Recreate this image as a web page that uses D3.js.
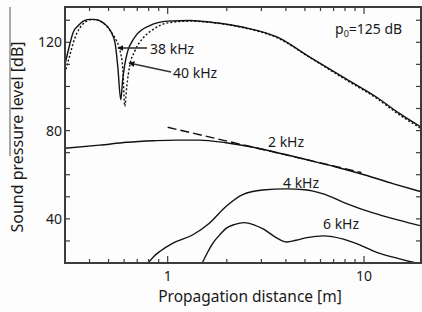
<!DOCTYPE html>
<html><head><meta charset="utf-8">
<script src="https://cdn.jsdelivr.net/npm/d3@7"></script>
<style>body{margin:0;background:#fff}svg{display:block}text{font-family:"Noto Sans",sans-serif;fill:#1a1a1a}</style>
</head><body><svg id="c" width="422" height="312"></svg>
<script>
// distance [m], sound pressure level [dB]
const khz38 = [[0.30,110],[0.315,118],[0.33,124.5],[0.35,127.5],[0.37,129.5],[0.40,130.4],[0.43,130.3],[0.47,128.8],[0.51,125.4],[0.54,119.5],[0.557,109],[0.577,94],[0.59,103],[0.605,110],[0.626,116],[0.66,120.5],[0.70,123.8],[0.81,127.6],[1.0,129.6],[1.3,129.9],[1.7,129],[2.43,126.8],[3.62,122.3],[5.32,113.2],[7.82,104.2],[11.6,95.1],[15,88],[19.5,81.6]];
const khz40 = [[0.30,106],[0.315,113],[0.337,122],[0.357,126.5],[0.385,129.5],[0.416,130.4],[0.45,129.8],[0.49,127.2],[0.526,123.5],[0.55,120.5],[0.571,116.5],[0.591,108],[0.605,91],[0.619,100],[0.641,109.5],[0.68,116],[0.747,121.8],[0.85,126],[1.0,128.8],[1.3,129.6],[1.7,128.9],[2.43,126.6],[3.62,122],[5.32,113],[7.82,103.8],[11.6,94.6],[15,87.4],[19.5,81]];
const khz2 = [[0.30,72],[0.45,73.4],[0.62,74.7],[0.85,75.4],[1.1,75.7],[1.45,75.7],[1.98,74.5],[2.6,72.8],[3.5,70.3],[5,67],[7.2,63.5],[10,60],[14,56],[19.5,52.3]];
const khz2Ref = [[1.0,81.5],[9.7,61.0]];
const khz4 = [[0.794,20],[0.85,23],[0.911,25.2],[1.064,29],[1.345,32.8],[1.63,38],[1.98,45.6],[2.41,51],[3.05,53.1],[4.0,53.6],[5.0,53.2],[6.2,51.3],[7.9,47.4],[11,42.8],[15,39.4],[19.5,36.8]];
const khz6 = [[1.50,20],[1.60,25],[1.70,29],[1.85,33],[1.99,35.8],[2.2,37.5],[2.44,38.3],[2.75,37.3],[3.08,35.3],[3.5,32],[4.05,29.5],[4.5,30.3],[5.12,31.5],[6.21,32.3],[7.85,30.8],[9.5,28.2],[11.6,24.8],[15,22],[19.5,19.5]];
const xMajor = [1, 10];
const xMinor = [0.3,0.4,0.5,0.6,0.7,0.8,0.9,2,3,4,5,6,7,8,9];
const yMajor = [40, 80, 120];
const yMinor = [30, 50, 60, 70, 90, 100, 110, 130];

const svg = d3.select("#c");
const L = 65, R = 421, T = 7, B = 263;
const x = d3.scaleLog().domain([0.3, 19.5]).range([L, R]);
const y = d3.scaleLinear().domain([20, 136]).range([B, T]);

svg.append("rect").attr("width",422).attr("height",312).attr("fill","#fdfdfd");

const defs = svg.append("defs");
defs.append("clipPath").attr("id","clip").append("rect").attr("x",L).attr("y",T).attr("width",R-L).attr("height",B-T);
defs.append("marker").attr("id","ah").attr("viewBox","0 0 10 10").attr("refX",9).attr("refY",5)
  .attr("markerWidth",6).attr("markerHeight",6).attr("orient","auto").attr("markerUnits","userSpaceOnUse")
  .append("path").attr("d","M0,0 L10,5 L0,10 z").attr("fill","#111");

const line = d3.line().x(d=>x(d[0])).y(d=>y(d[1])).curve(d3.curveMonotoneX);
const g = svg.append("g").attr("clip-path","url(#clip)");
const series = [
  {data:khz38, dash:null},
  {data:khz40, dash:"2,2"},
  {data:khz2, dash:null},
  {data:khz2Ref, dash:"9,4"},
  {data:khz4, dash:null},
  {data:khz6, dash:null}
];
series.forEach(s=>{
  g.append("path").attr("d", line(s.data)).attr("fill","none").attr("stroke","#111")
   .attr("stroke-width", 1.4).attr("stroke-dasharray", s.dash);
});

// axes (inward ticks on all four sides)
const ax = svg.append("g").attr("stroke","#3c3c3c");
function ticks(vals, len, orient){
  vals.forEach(v=>{
    if(orient==="b") ax.append("line").attr("x1",x(v)).attr("x2",x(v)).attr("y1",B).attr("y2",B-len);
    if(orient==="t") ax.append("line").attr("x1",x(v)).attr("x2",x(v)).attr("y1",T).attr("y2",T+len);
    if(orient==="l") ax.append("line").attr("y1",y(v)).attr("y2",y(v)).attr("x1",L).attr("x2",L+len);
    if(orient==="r") ax.append("line").attr("y1",y(v)).attr("y2",y(v)).attr("x1",R).attr("x2",R-len);
  });
}
ticks(xMajor,7,"b"); ticks(xMinor,4,"b");
ticks(xMajor,7,"t"); ticks(xMinor,4,"t");
ticks(yMajor,5,"l"); ticks(yMinor,5,"l");
ticks(yMajor,5,"r"); ticks(yMinor,5,"r");
ax.selectAll("line").attr("stroke-width",1.2);
ax.append("rect").attr("x",L).attr("y",T).attr("width",R-L).attr("height",B-T)
  .attr("fill","none").attr("stroke-width",2);

// tick labels
svg.selectAll(".yl").data(yMajor).enter().append("text")
  .attr("x",62).attr("y",d=>y(d)+5).attr("text-anchor","end").attr("font-size",14).text(d=>d);
svg.selectAll(".xl").data(xMajor).enter().append("text")
  .attr("x",d=>x(d)).attr("y",281).attr("text-anchor","middle").attr("font-size",14).text(d=>d);

// axis titles
svg.append("text").attr("x",250).attr("y",302).attr("text-anchor","middle").attr("font-size",15.5)
  .text("Propagation distance [m]");
svg.append("text").attr("transform","translate(23,137) rotate(-90)").attr("text-anchor","middle")
  .attr("font-size",16).text("Sound pressure level [dB]");
svg.append("line").attr("x1",10).attr("x2",10).attr("y1",7).attr("y2",156).attr("stroke","#555").attr("stroke-width",1);

// annotations
svg.append("text").attr("x",150).attr("y",54).attr("font-size",14).text("38 kHz");
svg.append("line").attr("x1",147).attr("y1",48).attr("x2",118).attr("y2",48)
  .attr("stroke","#333").attr("stroke-width",1.6).attr("marker-end","url(#ah)");
svg.append("text").attr("x",173).attr("y",78).attr("font-size",14).text("40 kHz");
svg.append("line").attr("x1",171).attr("y1",72).attr("x2",129).attr("y2",63)
  .attr("stroke","#333").attr("stroke-width",1.6).attr("marker-end","url(#ah)");
const p = svg.append("text").attr("x",335).attr("y",34).attr("font-size",14);
p.append("tspan").text("p");
p.append("tspan").attr("font-size",9).attr("dy",3).text("0");
p.append("tspan").attr("dy",-3).text("=125 dB");
svg.append("text").attr("x",268).attr("y",147).attr("font-size",14).text("2 kHz");
svg.append("text").attr("x",283).attr("y",188).attr("font-size",14).text("4 kHz");
svg.append("text").attr("x",323).attr("y",229).attr("font-size",14).text("6 kHz");
</script>
</body></html>
